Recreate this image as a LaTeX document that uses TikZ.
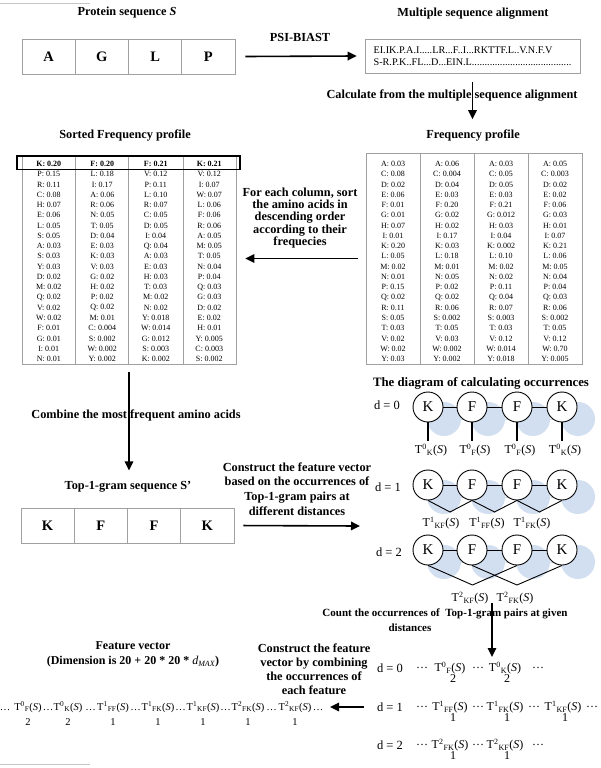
\documentclass[tikz,border=0pt]{standalone}
\usepackage{fontspec}
\setmainfont{Liberation Serif}
\usetikzlibrary{arrows.meta}
\newcommand{\Tl}[2]{T\textsuperscript{#1}\textsubscript{#2}(\textit{S})}
\definecolor{cellgray}{RGB}{160,160,160}
\definecolor{shblue}{RGB}{210,223,241}
\begin{document}
\begin{tikzpicture}[x=1pt,y=-1pt,
  title/.style={font=\fontsize{12.3}{13}\selectfont\bfseries, align=center, inner sep=0pt},
  blab/.style={font=\fontsize{12.3}{14.6}\selectfont\bfseries, align=center, inner sep=0pt},
  seqcell/.style={draw=cellgray, line width=0.6pt, minimum width=53.25pt, minimum height=35pt, inner sep=0pt, font=\fontsize{14.5}{16}\selectfont\bfseries},
  tabtxt/.style={font=\fontsize{8}{9}\selectfont, inner sep=0pt},
  tabframe/.style={draw=cellgray, line width=0.6pt, inner sep=0pt},
  arr/.style={line width=1.6pt, -{Triangle[length=9pt,width=8.5pt]}},
  res/.style={circle, draw, line width=0.9pt, fill=white, minimum size=30pt, inner sep=0pt, font=\fontsize{15}{16}\selectfont},
  link/.style={line width=0.9pt},
  dlab/.style={font=\fontsize{12.5}{14}\selectfont, inner sep=0pt},
  tlab/.style={font=\fontsize{12}{13}\selectfont, inner sep=0pt},
  flab/.style={font=\fontsize{10.5}{12}\selectfont, inner sep=0pt},
]
\useasboundingbox (0,0) rectangle (600,768);
\fill[white] (0,0) rectangle (600,768);
\draw[cellgray!60, line width=0.5pt] (0,3) -- (90,3);
\draw[cellgray!60, line width=0.5pt] (0,764) -- (90,764);

% ---------- protein sequence
\node[title] (tS) at (127,13) {Protein sequence \textit{S}};
\foreach \l [count=\i] in {A,G,L,P}
  \node[seqcell] (s\i) at ({22+53.25*(\i-0.5)},56.5) {\l};

% ---------- MSA
\node[draw=cellgray, line width=0.6pt, minimum width=215pt, minimum height=34pt,
      align=left, inner sep=0pt,
      font=\fontsize{10.2}{12}\selectfont] (msa) at (472.5,56)
  {EI.IK.P.A.I.....LR...F..I...RKTTF.L..V.N.F.V\\S-R.P.K..FL...D...EIN.L.......................................};
\node[title] (tM) at (473,14) {Multiple sequence alignment};
\node[title] (psi) at (300,37) {PSI-BIAST};
\draw[arr] ([xshift=10pt]s4.east) -- ([xshift=-8pt]msa.west);

\node[title] (calc) at (452,96) {Calculate from the multiple sequence alignment};
\node[title] (tF) at (473,135) {Frequency profile};
\draw[arr, shorten <=9pt, shorten >=10pt] (msa.south) -- (msa.south |- tF.north);

% ---------- frequency profile (right table)
\node[tabframe, minimum width=216pt, minimum height=211pt] (rt) at (474,258.5) {};
\foreach \x in {420,474,528} \draw[cellgray, line width=0.6pt] (\x,153) -- (\x,364);
\foreach \col [count=\c] in {
  {A: 0.03, C: 0.08, D: 0.02, E: 0.06, F: 0.01, G: 0.01, H: 0.07, I: 0.01, K: 0.20, L: 0.05, M: 0.02, N: 0.01, P: 0.15, Q: 0.02, R: 0.11, S: 0.05, T: 0.03, V: 0.02, W: 0.02, Y: 0.03},
  {A: 0.06, C: 0.004, D: 0.04, E: 0.03, F: 0.20, G: 0.02, H: 0.02, I: 0.17, K: 0.03, L: 0.18, M: 0.01, N: 0.05, P: 0.02, Q: 0.02, R: 0.06, S: 0.002, T: 0.05, V: 0.03, W: 0.002, Y: 0.002},
  {A: 0.03, C: 0.05, D: 0.05, E: 0.03, F: 0.21, G: 0.012, H: 0.03, I: 0.04, K: 0.002, L: 0.10, M: 0.02, N: 0.02, P: 0.11, Q: 0.04, R: 0.07, S: 0.003, T: 0.03, V: 0.12, W: 0.014, Y: 0.018},
  {A: 0.05, C: 0.003, D: 0.02, E: 0.02, F: 0.06, G: 0.03, H: 0.01, I: 0.07, K: 0.21, L: 0.06, M: 0.05, N: 0.04, P: 0.04, Q: 0.03, R: 0.06, S: 0.002, T: 0.05, V: 0.12, W: 0.70, Y: 0.005}} {
  \foreach \v [count=\r] in \col {
    \node[tabtxt] (R\c-\r) at ({366+54*(\c-0.5)},{164+10.26*(\r-1)}) {\v};
  }
}

% ---------- sorted frequency profile (left table)
\node[title] (tSF) at (125,135) {Sorted Frequency profile};
\node[tabframe, minimum width=214pt, minimum height=208pt] (lt) at (129,260) {};
\foreach \x in {75,128,183} \draw[cellgray, line width=0.6pt] (\x,156) -- (\x,364);
\foreach \col [count=\c] in {
  {K: 0.20, P: 0.15, R: 0.11, C: 0.08, H: 0.07, E: 0.06, L: 0.05, S: 0.05, A: 0.03, S: 0.03, Y: 0.03, D: 0.02, M: 0.02, Q: 0.02, V: 0.02, W: 0.02, F: 0.01, G: 0.01, I: 0.01, N: 0.01},
  {F: 0.20, L: 0.18, I: 0.17, A: 0.06, R: 0.06, N: 0.05, T: 0.05, D: 0.04, E: 0.03, K: 0.03, V: 0.03, G: 0.02, H: 0.02, P: 0.02, Q: 0.02, M: 0.01, C: 0.004, S: 0.002, W: 0.002, Y: 0.002},
  {F: 0.21, V: 0.12, P: 0.11, L: 0.10, R: 0.07, C: 0.05, D: 0.05, I: 0.04, Q: 0.04, A: 0.03, E: 0.03, H: 0.03, T: 0.03, M: 0.02, N: 0.02, Y: 0.018, W: 0.014, G: 0.012, S: 0.003, K: 0.002},
  {K: 0.21, V: 0.12, I: 0.07, W: 0.07, L: 0.06, F: 0.06, R: 0.06, A: 0.05, M: 0.05, T: 0.05, N: 0.04, P: 0.04, Q: 0.03, G: 0.03, D: 0.02, E: 0.02, H: 0.01, Y: 0.005, C: 0.003, S: 0.002}} {
  \foreach \v [count=\r] in \col {
    \node[tabtxt] (L\c-\r) at ({22+53.5*(\c-0.5)},{164+10.26*(\r-1)}) {\ifnum\r=1 \bfseries\fi\v};
  }
}
\draw[line width=1.3pt] (17,156) rectangle (240,169.3);

\node[title, font=\fontsize{12.3}{12.3}\selectfont\bfseries] (sortl) at (300,218)
  {For each column, sort\\the amino acids in\\descending order\\according to their\\frequecies};
\coordinate (lte) at (lt.east |- rt.west);
\draw[arr] ([xshift=-8pt]rt.west) -- ([xshift=9pt]lte);

% ---------- top-1-gram sequence
\node[title] (comb) at (136,415) {Combine the most frequent amino acids};
\node[title] (tT) at (128,487) {Top-1-gram sequence S’};
\draw[arr, shorten <=8pt, shorten >=11pt] (lt.south) -- (lt.south |- tT.north);
\foreach \l [count=\i] in {K,F,F,K}
  \node[seqcell] (q\i) at ({21+53.25*(\i-0.5)},525.5) {\l};
\node[blab] (cons) at (297,489) {Construct the feature vector\\based on the occurrences of\\Top-1-gram pairs at\\different distances};
\coordinate (ce) at (360,526);
\draw[arr, shorten <=9pt] (q4.east) -- (ce);

% ---------- diagram of calculating occurrences
\node[title, font=\fontsize{12.8}{14}\selectfont\bfseries] (tO) at (481,383) {The diagram of calculating occurrences};
\foreach \row/\yy in {a/407,b/485,c/550} {
  \foreach \xx in {428,472,517,562} \fill[shblue] (\xx+16,\yy+12) circle[radius=17];
  \draw[shblue, line width=1pt] (444,\yy+12) -- (578,\yy+12);
  \foreach \l/\xx [count=\i] in {K/428,F/472,F/517,K/562}
    \node[res] (\row\i) at (\xx,\yy) {\l};
  \draw[link] (\row1) -- (\row2) -- (\row3) -- (\row4);
}
\node[dlab] (d0) at (387,405) {d = 0};
\node[dlab] (d1) at (388,487) {d = 1};
\node[dlab] (d2) at (389,552) {d = 2};

% d = 0
\foreach \l/\xx [count=\i] in {K/428,F/472,F/517,K/562} {
  \node[tlab] (ta\i) at (\xx+3,450) {\Tl{0}{\l}};
  \draw[line width=1.3pt, shorten >=3pt] (a\i.south) -- (a\i.south |- ta\i.north);
}
% d = 1
\coordinate (v1) at (450,512);
\coordinate (v2) at (494.5,512);
\coordinate (v3) at (539.5,512);
\draw[link] (b1.south) -- (v1) -- (b2.south) -- (v2) -- (b3.south) -- (v3) -- (b4.south);
\node[tlab] (tb1) at (441,523) {\Tl{1}{KF}};
\node[tlab] (tb2) at (487,523) {\Tl{1}{FF}};
\node[tlab] (tb3) at (532,523) {\Tl{1}{FK}};
% d = 2
\coordinate (w1) at (472.5,585);
\coordinate (w2) at (517,585);
\draw[link] (c1.south) -- (w1) -- (c3.south);
\draw[link] (c2.south) -- (w2) -- (c4.south);
\node[tlab] (tc1) at (470,598) {\Tl{2}{KF}};
\node[tlab] (tc2) at (515,598) {\Tl{2}{FK}};

\node[title, font=\fontsize{11}{13}\selectfont\bfseries] (cnt1) at (445,614) {Count the occurrences of~~Top-1-gram pairs at given};
\node[title, font=\fontsize{11}{13}\selectfont\bfseries] (cnt2) at (410,628) {distances};
\coordinate (ds) at (492,603);
\coordinate (de) at (492,657);
\draw[arr] (ds) -- (de);

% ---------- counted occurrences
\node[dlab] (e0) at (390,668) {d = 0};
\node[dlab] (e1) at (390,707) {d = 1};
\node[dlab] (e2) at (390,745) {d = 2};
\foreach \yy/\row in {668/0,707/1,745/2} {
  \node[tlab] (k\row a) at (422,\yy) {\dots};
  \node[tlab] (k\row b) at (478,\yy) {\dots};
}
\node[tlab] (k0c) at (538,668) {\dots};
\node[tlab] (k1c) at (534,707) {\dots};
\node[tlab] (k1d) at (592,707) {\dots};
\node[tlab] (k2c) at (538,745) {\dots};
\foreach \yy/\row/\la/\lb in {668/0/{\Tl{0}{F}}/{\Tl{0}{K}},707/1/{\Tl{1}{FF}}/{\Tl{1}{FK}},745/2/{\Tl{2}{FK}}/{\Tl{2}{KF}}} {
  \node[tlab] (m\row a) at (450,\yy) {\la};
  \node[tlab] (m\row b) at (505,\yy) {\lb};
}
\node[tlab] (m1c) at (563,707) {\Tl{1}{KF}};
\node[tlab] (n0a) at (453,679) {2};
\node[tlab] (n0b) at (507,679) {2};
\node[tlab] (n1a) at (453,718) {1};
\node[tlab] (n1b) at (507,718) {1};
\node[tlab] (n1c) at (565,718) {1};
\node[tlab] (n2a) at (453,756) {1};
\node[tlab] (n2b) at (507,756) {1};

\node[blab, font=\fontsize{12.3}{14}\selectfont\bfseries] (combf) at (314,669)
  {Construct the feature\\vector by combining\\the occurrences of\\each feature};
\coordinate (fe) at (330,707);
\draw[arr, shorten <=13pt] (e1.west) -- (fe);

% ---------- feature vector
\node[title, font=\fontsize{12}{15}\selectfont\bfseries] (tFV) at (133,654.5)
  {Feature vector\\(Dimension is 20 + 20 * 20 * {\mdseries\itshape d}\textsubscript{\mdseries\itshape MAX})};
\foreach \xx/\lab/\num [count=\i] in {28/{\Tl{0}{F}}/2,68/{\Tl{0}{K}}/2,113/{\Tl{1}{FF}}/1,158/{\Tl{1}{FK}}/1,203/{\Tl{1}{KF}}/1,248/{\Tl{2}{FK}}/1,295/{\Tl{2}{KF}}/1} {
  \node[flab] (f\i) at (\xx,707) {\lab};
  \node[flab] (g\i) at (\xx,722) {\num};
}
\foreach \xx [count=\i] in {5,48,90.5,135.5,180.5,225.5,271.5,318}
  \node[flab] (h\i) at (\xx,710) {\dots};
\end{tikzpicture}
\end{document}
